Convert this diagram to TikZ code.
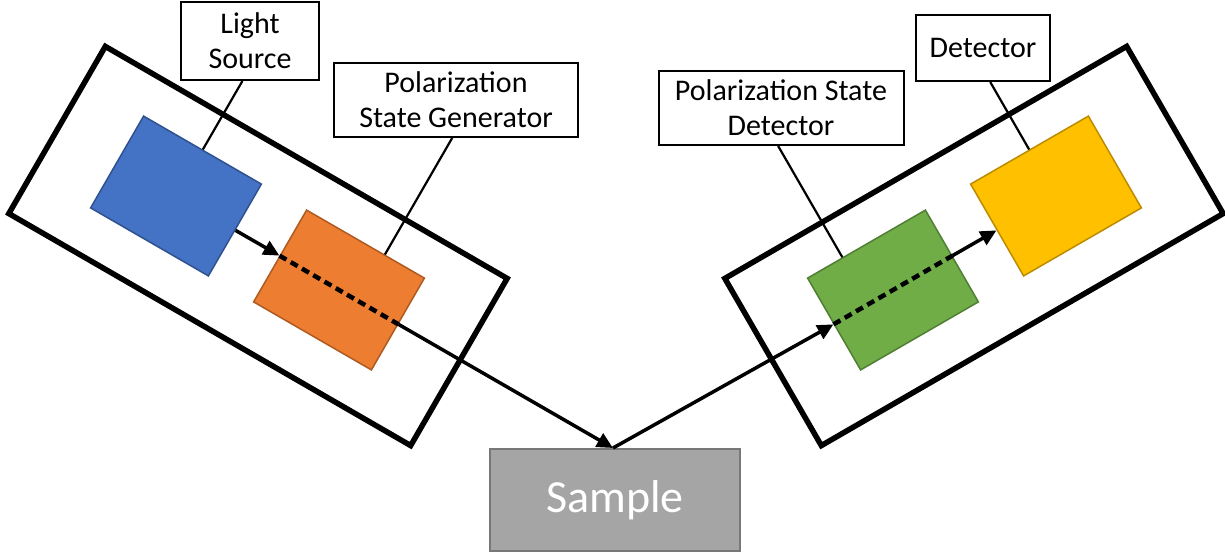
\documentclass[tikz,border=0pt]{standalone}
\usepackage{fontspec}
\setmainfont{Carlito}
\usetikzlibrary{arrows.meta,calc}
\definecolor{srcblue}{HTML}{4472C4}
\definecolor{srcblueline}{HTML}{2F528F}
\definecolor{psgorange}{HTML}{ED7D31}
\definecolor{psgorangeline}{HTML}{AE5A21}
\definecolor{psdgreen}{HTML}{70AD47}
\definecolor{psdgreenline}{HTML}{507E32}
\definecolor{detyellow}{HTML}{FFC000}
\definecolor{detyellowline}{HTML}{BC8C00}
\definecolor{samplegray}{HTML}{A5A5A5}
\definecolor{samplegrayline}{HTML}{787878}
\begin{document}
\begin{tikzpicture}[x=0.5pt, y=-0.5pt,
    arm/.style = {draw, line width=2.75pt, inner sep=0pt, minimum width=232pt, minimum height=96.5pt},
    part/.style = {draw, line width=0.75pt, inner sep=0pt, minimum width=68pt, minimum height=53pt},
    tag/.style = {draw, fill=white, line width=1pt, inner sep=0pt, align=center, font=\fontsize{15}{17.5}\selectfont},
    beam/.style = {line width=1.75pt, -{Triangle[length=8pt,width=7.5pt]}},
    inside/.style = {line width=2.25pt, dash pattern=on 4pt off 2.5pt},
    lead/.style = {line width=1.1pt}]
    \useasboundingbox (0,0) rectangle (1225,552);
    % arms
    \node[arm, rotate=-30] (genarm) at (258,246) {};
    \node[arm, rotate=30] (detarm) at (974,246) {};
    % parts
    \node[part, rotate=-30, fill=srcblue, draw=srcblueline] (src) at (176,196) {};
    \node[part, rotate=-30, fill=psgorange, draw=psgorangeline] (psg) at (339,290) {};
    \node[part, rotate=30, fill=psdgreen, draw=psdgreenline] (psd) at (893,290) {};
    \node[part, rotate=30, fill=detyellow, draw=detyellowline] (det) at (1056,196) {};
    % sample
    \node[draw=samplegrayline, fill=samplegray, line width=1pt, minimum width=125pt, minimum height=51pt,
          text=white, font=\fontsize{23}{27}\selectfont] (sample) at (615,500) {\raisebox{3pt}{Sample}};
    \coordinate (spot) at (613,448);
    % beam
    \draw[beam] (src.east) -- (psg.west);
    \draw[inside] (psg.west) -- (psg.east);
    \draw[beam] (psg.east) -- (spot);
    \draw[beam] (spot) -- (psd.west);
    \draw[inside] (psd.west) -- (psd.east);
    \draw[beam] (psd.east) -- (det.west);
    % labels
    \node[tag, minimum width=69pt, minimum height=39pt] (srctag) at (250,41) {Light\\Source};
    \node[tag, minimum width=122pt, minimum height=37pt] (psgtag) at (456,100) {Polarization\\State Generator};
    \node[tag, minimum width=122.5pt, minimum height=37pt] (psdtag) at (781,108) {Polarization State\\Detector};
    \node[tag, minimum width=67pt, minimum height=33pt] (dettag) at (983,48) {Detector};
    \coordinate (psgfoot) at ($(psg.north)!0.32!(psg.north east)$);
    \coordinate (psgbase) at ($(psg.center)!0.32!(psg.east)$);
    \coordinate (psdfoot) at ($(psd.north)!0.4!(psd.north west)$);
    \coordinate (psdbase) at ($(psd.center)!0.4!(psd.west)$);
    \draw[lead] (src.north) -- (intersection of src.center--src.north and srctag.south west--srctag.south east);
    \draw[lead] (psgfoot) -- (intersection of psgbase--psgfoot and psgtag.south west--psgtag.south east);
    \draw[lead] (psdfoot) -- (intersection of psdbase--psdfoot and psdtag.south west--psdtag.south east);
    \draw[lead] (det.north) -- (intersection of det.center--det.north and dettag.south west--dettag.south east);
\end{tikzpicture}
\end{document}
